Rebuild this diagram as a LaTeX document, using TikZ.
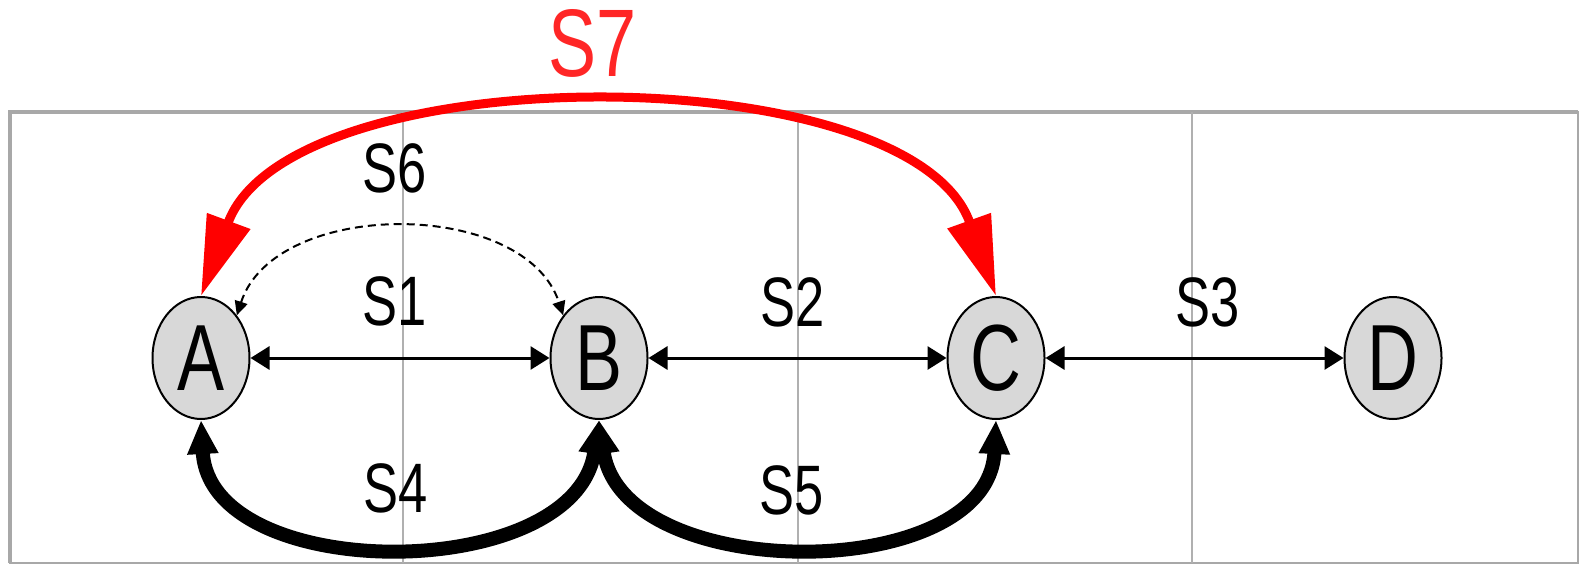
\documentclass[tikz,border=0pt]{standalone}
\usepackage{fontspec}
\usepackage{graphicx}
\setmainfont{Liberation Sans}
\usetikzlibrary{arrows.meta,shapes.geometric}
\definecolor{statefill}{HTML}{D8D8D8}
\definecolor{framegray}{HTML}{A8A8A8}
\definecolor{gridgray}{HTML}{B0B0B0}
\newcommand{\nar}[1]{\scalebox{0.75}[1]{#1}}
\begin{document}
\begin{tikzpicture}[x=1pt,y=-1pt,
  state/.style={ellipse,draw=black,line width=2pt,fill=statefill,minimum width=97pt,minimum height=122pt,inner sep=0pt,font=\fontsize{94}{94}\selectfont},
  lab/.style={font=\fontsize{70}{70}\selectfont,inner sep=0pt},
  redlab/.style={font=\fontsize{96}{96}\selectfont,inner sep=0pt,text=red!85!white},
  gridline/.style={draw=gridgray,line width=2pt},
  straight/.style={line width=3pt,{Triangle[length=19pt,width=23pt]}-{Triangle[length=19pt,width=23pt]}},
  dashedarc/.style={line width=2pt,dash pattern=on 8pt off 5pt,{Triangle[length=14pt,width=13pt]}-{Triangle[length=14pt,width=13pt]}},
  thickarc/.style={line width=14pt,{Triangle[length=34pt,width=29pt]}-{Triangle[length=34pt,width=29pt]}},
  redarc/.style={draw=red,line width=9pt,{Triangle[length=80pt,width=44pt]}-{Triangle[length=80pt,width=44pt]}}
]
\useasboundingbox (0,0) rectangle (1586,564);
% frame and grid
\draw[draw=framegray,line width=1.5pt] (10,112) rectangle (1578,563);
\draw[draw=framegray,line width=3.5pt] (10,563) -- (10,112) -- (1578,112);
\draw[gridline] (403,112) -- (403,563);
\draw[gridline] (798,112) -- (798,563);
\draw[gridline] (1192,112) -- (1192,563);
% states
\node[state] (A) at (201,358) {\nar{A}};
\node[state] (B) at (599,358) {\nar{B}};
\node[state] (C) at (996,358) {\nar{C}};
\node[state] (D) at (1393,358) {\nar{D}};
% connectors
\draw[straight] (A.east) -- (B.west);
\draw[straight] (B.east) -- (C.west);
\draw[straight] (C.east) -- (D.west);
\draw[dashedarc] (A.50) .. controls (275,198) and (525,198) .. (B.130);
\draw[thickarc] (A.south) .. controls (210,585) and (575,585) .. (B.south);
\draw[thickarc] (B.south) .. controls (623,585) and (988,585) .. (C.south);
\draw[redarc] (A.north) .. controls (290,55) and (910,55) .. (C.north);
% labels
\node[lab] (s1) at (395,301) {\nar{S1}};
\node[lab] (s2) at (793,302) {\nar{S2}};
\node[lab] (s3) at (1208,302) {\nar{S3}};
\node[lab] (s4) at (396,488) {\nar{S4}};
\node[lab] (s5) at (792,490) {\nar{S5}};
\node[lab] (s6) at (395,168) {\nar{S6}};
\node[redlab] (s7) at (593,43) {\nar{S7}};
\end{tikzpicture}
\end{document}
